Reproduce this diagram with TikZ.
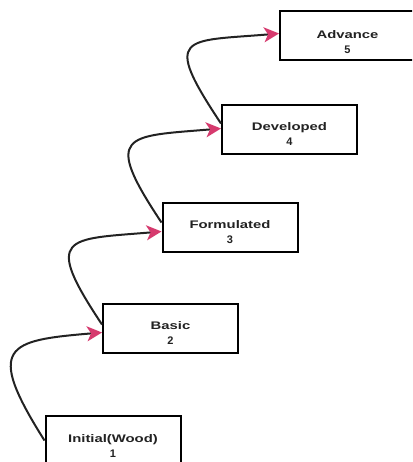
\documentclass[tikz,border=0pt]{standalone}
\usepackage{fontspec}
\usepackage{graphicx}
\setmainfont{Liberation Sans}
\usetikzlibrary{arrows.meta}
\definecolor{arrowpink}{RGB}{214,58,110}
\definecolor{inkgray}{RGB}{34,34,34}
\newcommand{\stagetext}[2]{\scalebox{1.35}[1]{#1}\\#2}
\tikzset{
  stagebox/.style={draw=black, line width=2pt, minimum width=135pt, minimum height=49pt, inner sep=0pt},
  stagelabel/.style={align=center, font=\fontsize{11}{15}\selectfont\bfseries, text=inkgray},
  growth/.style={draw=inkgray, line width=2pt, -{Stealth[length=15pt,width=15pt,inset=4pt,color=arrowpink]}}
}
\begin{document}
\begin{tikzpicture}[x=1pt,y=-1pt]
  \useasboundingbox (0,0) rectangle (412,462);
  \clip (0,0) rectangle (412,462);

  % stage boxes, lowest to highest
  \node[stagebox] (b1) at (113,440.5) {};
  \node[stagebox] (b2) at (170.5,328.5) {};
  \node[stagebox] (b3) at (230,227.5) {};
  \node[stagebox] (b4) at (289.5,129.5) {};
  \node[stagebox] (b5) at (347.5,35.5) {};

  % labels sit a little below each box centre
  \node[stagelabel] (t1) at ([yshift=-6pt]b1.center) {\stagetext{Initial(Wood)}{1}};
  \node[stagelabel] (t2) at ([yshift=-5pt]b2.center) {\stagetext{Basic}{2}};
  \node[stagelabel] (t3) at ([yshift=-5pt]b3.center) {\stagetext{Formulated}{3}};
  \node[stagelabel] (t4) at ([yshift=-5pt]b4.center) {\stagetext{Developed}{4}};
  \node[stagelabel] (t5) at ([yshift=-7pt]b5.center) {\stagetext{Advance}{5}};

  % S-shaped connectors between consecutive stages
  \draw[growth] ([yshift=0pt]b1.west) .. controls +(-60,-95) and +(-95,8) .. ([yshift=-4pt]b2.west);
  \draw[growth] ([yshift=4pt]b2.west) .. controls +(-60,-90) and +(-95,8) .. ([yshift=-4pt]b3.west);
  \draw[growth] ([yshift=5pt]b3.west) .. controls +(-60,-90) and +(-95,8) .. ([yshift=1pt]b4.west);
  \draw[growth] ([yshift=6pt]b4.west) .. controls +(-60,-90) and +(-95,8) .. ([yshift=2pt]b5.west);
\end{tikzpicture}
\end{document}
